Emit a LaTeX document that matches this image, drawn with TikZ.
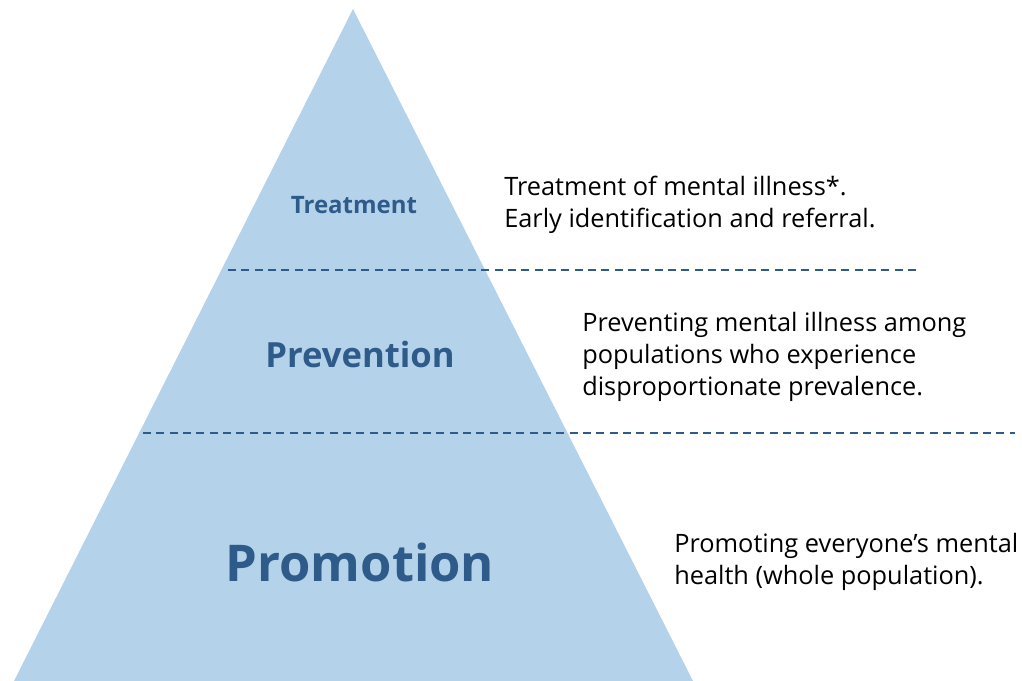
\documentclass[tikz,border=0pt]{standalone}
\usepackage{fontspec}
\setmainfont{Open Sans}
\usepackage{xcolor}
\definecolor{pyrfill}{RGB}{180,211,235}
\definecolor{pyrtext}{RGB}{47,91,138}

\begin{document}
\begin{tikzpicture}[x=0.75pt,y=0.75pt,yscale=-1,xscale=1,
  tier/.style={text=pyrtext,font=\bfseries,inner sep=0.75pt},
  note/.style={anchor=west,align=left,inner sep=0.75pt,font=\fontsize{19}{24}\selectfont},
  divider/.style={draw=pyrtext,line width=1.9pt,dash pattern=on 6pt off 4pt}]
\path[use as bounding box] (0,0) rectangle (1022,681);

%Shape: Triangle [id:pyramid]
\fill[pyrfill] (14,681) -- (353,9) -- (693,681) -- cycle;

%Straight Lines [id:upper divider]
\coordinate (ua) at (228,270);
\coordinate (ub) at (921,270);
\draw[divider] (ua) -- (ub);
%Straight Lines [id:lower divider]
\coordinate (la) at (143,433);
\coordinate (lb) at (1015,433);
\draw[divider] (la) -- (lb);

% Text Node
\node[tier,font=\bfseries\fontsize{18}{22}\selectfont] (treat) at (354,205) {Treatment};
% Text Node
\node[tier,font=\bfseries\fontsize{26}{30}\selectfont] (prev) at (360,355) {Prevention};
% Text Node
\node[tier,font=\bfseries\fontsize{38}{44}\selectfont] (promo) at (360,562) {Promotion};

% Text Node
\node[note] (treatnote) at (503,205) {Treatment of mental illness*.\\Early identification and referral.};
% Text Node
\node[note] (prevnote) at (581,357) {Preventing mental illness among\\populations who experience\\disproportionate prevalence.};
% Text Node
\node[note] (promonote) at (673,562) {Promoting everyone’s mental\\health (whole population).};

\end{tikzpicture}
\end{document}
